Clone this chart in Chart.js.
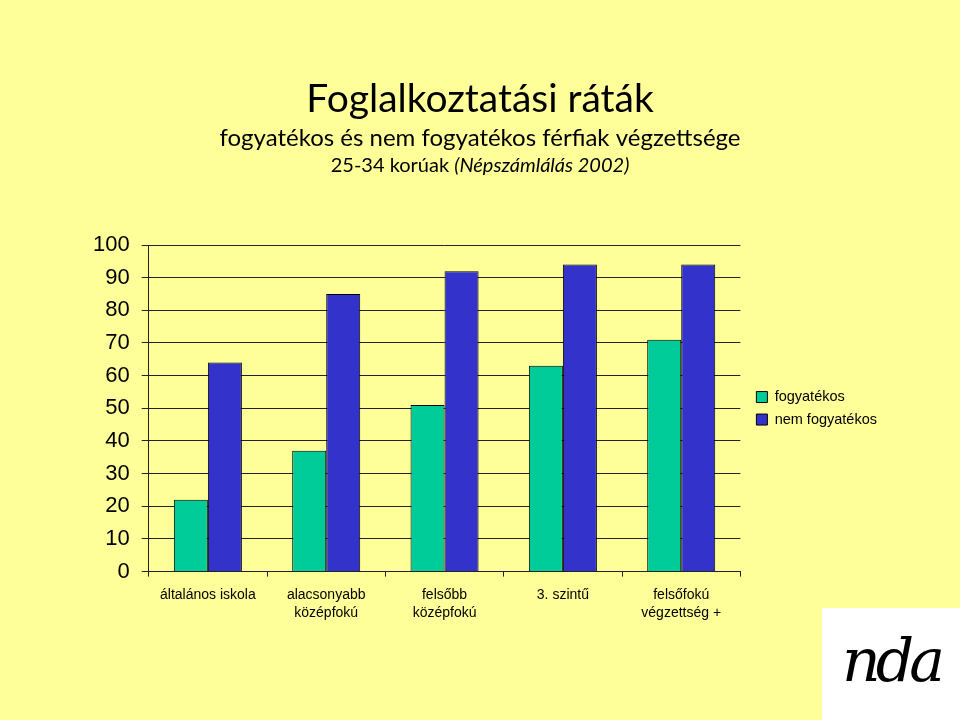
<!DOCTYPE html>
<html><head><meta charset="utf-8">
<script src="https://cdn.jsdelivr.net/npm/chart.js@4/dist/chart.umd.min.js"></script>
<style>
html,body{margin:0;padding:0;background:#FFFF99;}
#wrap{position:relative;width:960px;height:720px;overflow:hidden;}
#logo{position:absolute;left:822px;top:608px;width:138px;height:112px;background:#fff;
 font:italic 60px "DejaVu Serif",serif;color:#000;text-align:center;line-height:104px;letter-spacing:-5px;}
</style></head><body>
<div id="wrap"><canvas id="c" width="960" height="720"></canvas><div id="logo">nda</div></div>
<script>
const titleMain = "Foglalkoztatási ráták";
const titleSub = "fogyatékos és nem fogyatékos férfiak végzettsége";
const titleNote = "25-34 korúak ";
const titleNoteItalic = "(Népszámlálás 2002)";
const categories = [["általános iskola"], ["alacsonyabb", "középfokú"], ["felsőbb", "középfokú"], ["3. szintű"], ["felsőfokú", "végzettség +"]];
const seriesNames = ["fogyatékos", "nem fogyatékos"];
const fogyatekos = [22, 37, 51, 63, 71];
const nemFogyatekos = [64, 85, 92, 94, 94];
const yMin = 0, yMax = 100, yStep = 10;

const titlePlugin = {
  id: 'titles',
  beforeDraw(chart) {
    // place the legend just right of the plot, centred on it
    const lg = chart.legend, ca = chart.chartArea;
    if (lg) {
      const w = lg.right - lg.left;
      lg.left = ca.right + 8;
      lg.right = lg.left + w;
      lg.top = ca.top;
      lg.bottom = ca.bottom;
    }
  },
  afterDraw(chart) {
    const ctx = chart.ctx;
    const cx = chart.width / 2;
    ctx.save();
    ctx.fillStyle = '#000';
    ctx.textBaseline = 'alphabetic';
    ctx.textAlign = 'center';
    ctx.font = '39px Lato';
    ctx.fillText(titleMain, cx, 112);
    ctx.font = '24px Lato';
    ctx.fillText(titleSub, cx, 146);
    ctx.font = '20px Lato';
    const wa = ctx.measureText(titleNote).width;
    ctx.font = 'italic 20px Lato';
    const wb = ctx.measureText(titleNoteItalic).width;
    const x0 = cx - (wa + wb) / 2;
    ctx.textAlign = 'left';
    ctx.font = '20px Lato';
    ctx.fillText(titleNote, x0, 172);
    ctx.font = 'italic 20px Lato';
    ctx.fillText(titleNoteItalic, x0 + wa, 172);
    ctx.restore();
  }
};

new Chart(document.getElementById('c'), {
  type: 'bar',
  data: {
    labels: categories,
    datasets: [
      { label: seriesNames[0], data: fogyatekos, backgroundColor: '#00CC99', borderColor: '#000', borderWidth: 1, borderSkipped: 'bottom' },
      { label: seriesNames[1], data: nemFogyatekos, backgroundColor: '#3333CC', borderColor: '#000', borderWidth: 1, borderSkipped: 'bottom' }
    ]
  },
  options: {
    responsive: false,
    animation: false,
    devicePixelRatio: 1,
    layout: { padding: { top: 245, left: 81, right: 81, bottom: 89 } },
    datasets: { bar: { categoryPercentage: 0.575, barPercentage: 1 } },
    plugins: {
      title: { display: false },
      tooltip: { enabled: false },
      legend: {
        position: 'right',
        align: 'center',
        labels: {
          boxWidth: 11, boxHeight: 11, padding: 8,
          color: '#000',
          font: { family: 'Arial, "Liberation Sans"', size: 14.5 }
        }
      }
    },
    scales: {
      x: {
        offset: true,
        grid: { offset: true, drawOnChartArea: false, drawTicks: true, tickLength: 5, color: '#222', lineWidth: 1 },
        border: { display: true, color: '#222', width: 1 },
        ticks: { color: '#000', padding: 9, maxRotation: 0, autoSkip: false,
          font: { family: 'Arial, "Liberation Sans"', size: 14, lineHeight: 1.3 } }
      },
      y: {
        min: yMin, max: yMax,
        grid: { color: '#222', lineWidth: 1, tickLength: 7, drawTicks: true },
        border: { display: true, color: '#222', width: 1 },
        ticks: { stepSize: yStep, color: '#000', padding: 12,
          font: { family: 'Arial, "Liberation Sans"', size: 22 } }
      }
    }
  },
  plugins: [titlePlugin]
});
</script>
</body></html>
